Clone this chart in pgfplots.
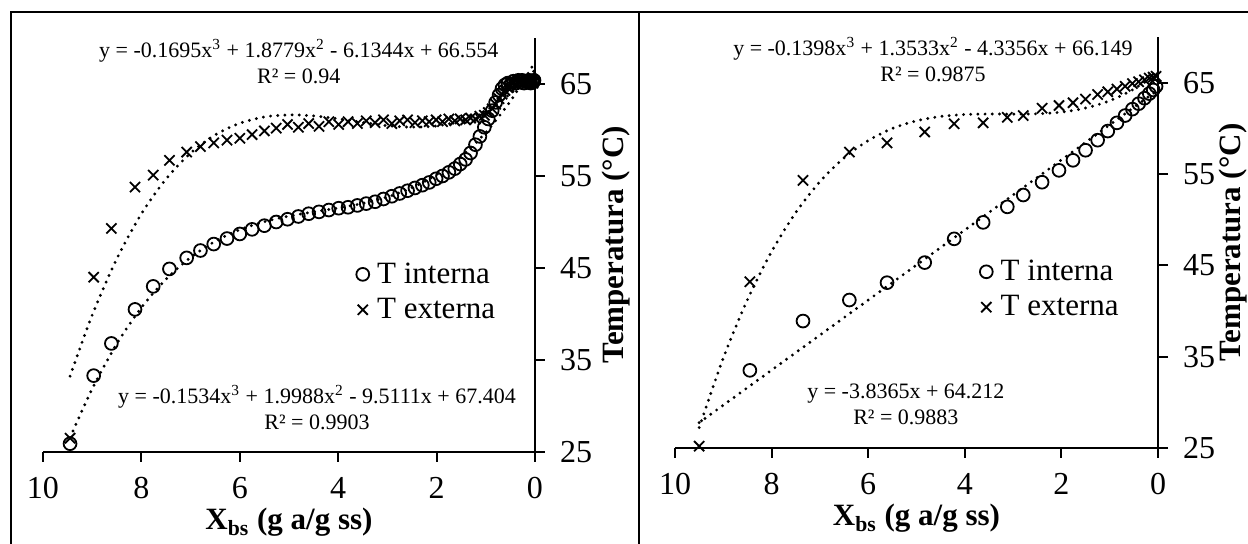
\documentclass[border=0pt]{standalone}
\usepackage{fontspec}
\setmainfont{Liberation Serif}
\usepackage{pgfplots}
\usepackage{pgfplotstable}
\pgfplotsset{compat=1.18}

% Left panel data: X, T interna, T externa
\pgfplotstableread{
X Ti Te
9.45 25.9 26.5
8.97 33.3 44.0
8.61 36.8 49.3
8.13 40.5 53.8
7.76 43.0 55.1
7.43 44.9 56.7
7.08 46.1 57.6
6.80 46.9 58.2
6.53 47.6 58.6
6.26 48.2 58.9
6.00 48.7 59.1
5.75 49.2 59.5
5.50 49.6 59.9
5.26 50.0 60.2
5.03 50.3 60.6
4.81 50.6 60.3
4.60 50.9 60.7
4.39 51.1 60.4
4.19 51.3 60.9
3.99 51.5 60.6
3.80 51.6 60.9
3.61 51.8 60.7
3.43 52.0 61.0
3.25 52.2 60.8
3.08 52.5 61.1
2.91 52.8 60.7
2.75 53.1 61.0
2.59 53.4 61.1
2.44 53.7 60.8
2.29 54.0 61.0
2.15 54.3 60.9
2.01 54.7 61.1
1.88 55.0 60.9
1.75 55.4 61.2
1.63 55.8 61.0
1.52 56.3 61.2
1.41 56.8 61.1
1.31 57.5 61.3
1.21 58.4 61.2
1.12 59.3 61.5
1.03 60.3 61.6
0.95 61.2 61.9
0.87 62.1 62.3
0.80 63.0 62.8
0.73 63.8 63.4
0.67 64.5 63.9
0.61 64.9 64.3
0.55 65.1 64.6
0.49 65.0 64.9
0.44 65.3 65.1
0.39 65.1 65.0
0.34 65.4 65.3
0.30 65.2 65.2
0.26 65.4 65.4
0.22 65.1 65.3
0.18 65.3 65.5
0.15 65.2 65.2
0.12 65.4 65.4
0.09 65.1 65.3
0.06 65.3 65.5
0.04 65.2 65.1
0.02 65.4 65.3
}\leftdata

% Right panel data
\pgfplotstableread{
X Ti
8.45 33.5
7.35 38.9
6.39 41.2
5.61 43.1
4.83 45.3
4.22 47.9
3.62 49.7
3.12 51.4
2.79 52.7
2.40 54.1
2.05 55.4
1.76 56.5
1.50 57.6
1.25 58.7
1.04 59.7
0.85 60.6
0.68 61.4
0.53 62.1
0.40 62.7
0.28 63.3
0.18 63.8
0.10 64.2
0.04 64.6
}\rightint

\pgfplotstableread{
X Te
9.50 25.2
8.45 43.2
7.35 54.3
6.39 57.4
5.61 58.4
4.83 59.6
4.22 60.5
3.62 60.6
3.12 61.2
2.79 61.4
2.40 62.2
2.05 62.5
1.76 62.8
1.50 63.2
1.25 63.7
1.04 64.0
0.85 64.3
0.68 64.6
0.53 64.9
0.40 65.1
0.28 65.3
0.18 65.5
0.10 65.6
0.04 65.7
}\rightext

\pgfplotsset{
  panel/.style={
    scale only axis,
    x dir=reverse,
    xmin=0, xmax=10, ymin=25, ymax=70,
    axis x line*=bottom, axis y line*=right,
    xtick={0,2,4,6,8,10}, ytick={25,35,45,55,65},
    tick align=outside,
    major tick length=5pt,
    every tick/.style={black, line width=1pt},
    axis line style={black, line width=1pt},
    tick label style={font=\fontsize{16}{19}\selectfont},
    xticklabel style={yshift=-4pt},
    yticklabel style={xshift=4pt},
    /pgf/number format/assume math mode=true,
    xlabel={\textbf{X\textsubscript{bs} (g a/g ss)}},
    ylabel={\textbf{Temperatura (°C)}},
    label style={font=\fontsize{15.5}{18}\selectfont},
    xlabel style={yshift=2pt},
    clip=false,
    legend style={draw=none, fill=none, font=\fontsize{15.5}{18}\selectfont,
      anchor=north east, row sep=2pt},
    legend cell align=left,
  },
  trend/.style={black, line width=1.6pt, line cap=round, dash pattern=on 0pt off 3.6pt, smooth, forget plot},
  intmark/.style={only marks, mark=o, mark size=3.2pt, mark options={black, line width=0.9pt}},
  extmark/.style={only marks, mark=x, mark size=3.6pt, mark options={black, line width=0.9pt}},
}

\begin{document}
\begin{tikzpicture}
\useasboundingbox (0,0) rectangle (624pt,272pt);
\draw[line width=1pt] (5.5pt,-5pt) -- (5.5pt,266pt) -- (630pt,266pt);
\draw[line width=1pt] (319.5pt,-5pt) -- (319.5pt,266pt);

% Left panel
\begin{axis}[panel, at={(21.5pt,46pt)}, anchor=south west, width=246pt, height=207pt,
  ylabel style={at={(axis description cs:1,0.5)}, anchor=north, yshift=-30pt},
  legend style={at={(axis cs:0.6,46.5)}}]
\addplot[trend] coordinates {(9.45,33.24) (9,39.88) (8.5,46.00) (8,50.89) (7.5,54.67) (7,57.49) (6.5,59.47) (6,60.73) (5.5,61.42) (5,61.64) (4.5,61.53) (4,61.22) (3.5,60.82) (3,60.47) (2.5,60.31) (2,60.44) (1.5,61.01) (1,62.13) (0.5,63.94) (0.02,66.43)};
\addplot[trend] coordinates {(9.45,26.56) (9,31.87) (8.5,36.76) (8,40.69) (7.5,43.78) (7,46.14) (6.5,47.90) (6,49.16) (5.5,50.03) (5,50.64) (4.5,51.10) (4,51.52) (3.5,52.03) (3,52.72) (2.5,53.72) (2,55.15) (1.5,57.11) (1,59.74) (0.5,63.13) (0.02,67.21)};
\addplot[intmark] table[x=X, y=Ti] {\leftdata};
\addlegendentry{\hspace{2pt}T interna}
\addplot[extmark] table[x=X, y=Te] {\leftdata};
\addlegendentry{\hspace{2pt}T externa}
\node[font=\fontsize{11}{13}\selectfont, align=center] at (axis cs:4.80,67.4) {y = -0.1695x\textsuperscript{3} + 1.8779x\textsuperscript{2} - 6.1344x + 66.554\\R² = 0.94};
\node[font=\fontsize{11}{13}\selectfont, align=center] at (axis cs:4.43,29.8) {y = -0.1534x\textsuperscript{3} + 1.9988x\textsuperscript{2} - 9.5111x + 67.404\\R² = 0.9903};
\end{axis}

% Right panel
\begin{axis}[panel, at={(337.5pt,48pt)}, anchor=south west, width=241.5pt, height=205.5pt,
  ylabel style={at={(axis description cs:1,0.5)}, anchor=north, yshift=-27pt},
  legend style={at={(axis cs:0.6,46.5)}}]
\addplot[trend] coordinates {(9.5,27.24) (9,34.84) (8.5,41.23) (8,46.50) (7.5,50.77) (7,54.16) (6.5,56.76) (6,58.66) (5.5,59.98) (5,60.82) (4.5,61.30) (4,61.51) (3.5,61.57) (3,61.55) (2.5,61.59) (2,61.77) (1.5,62.22) (1,63.02) (0.5,64.30) (0.04,65.98)};
\addplot[trend] coordinates {(9.5,27.77) (0.04,64.06)};
\addplot[intmark] table[x=X, y=Ti] {\rightint};
\addlegendentry{\hspace{2pt}T interna}
\addplot[extmark] table[x=X, y=Te] {\rightext};
\addlegendentry{\hspace{2pt}T externa}
\node[font=\fontsize{11}{13}\selectfont, align=center] at (axis cs:4.66,67.5) {y = -0.1398x\textsuperscript{3} + 1.3533x\textsuperscript{2} - 4.3356x + 66.149\\R² = 0.9875};
\node[font=\fontsize{11}{13}\selectfont, align=center] at (axis cs:5.22,29.8) {y = -3.8365x + 64.212\\R² = 0.9883};
\end{axis}
\end{tikzpicture}
\end{document}
